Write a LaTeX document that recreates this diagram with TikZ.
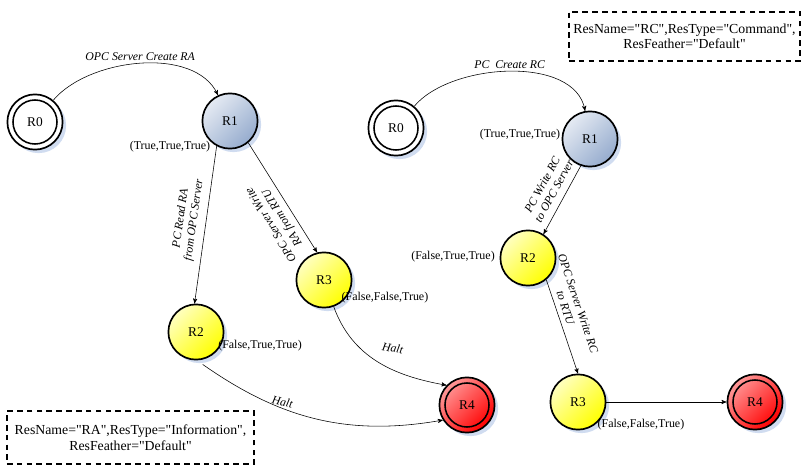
\documentclass[tikz,border=0pt]{standalone}
\usepackage{fontspec}
\setmainfont{Liberation Serif}[Ligatures=TeXOff]
\usepackage[dvipsnames]{xcolor}
\definecolor{colorActive}{RGB}{150,172,206}
\colorlet{colorWait}{yellow}
\colorlet{colorHalt}{red}
\definecolor{colorShadow}{RGB}{208,220,240}
\usepackage{tikz}
\usetikzlibrary{arrows, automata, positioning, shadows}
\tikzset{
  every state/.style={draw, line width=1.2pt, minimum size=1.38cm, inner sep=0pt,
    font=\fontsize{9.5}{11}\selectfont,
    drop shadow={shadow xshift=2.5pt, shadow yshift=-2.5pt, fill=colorShadow, opacity=1}},
  accepting/.style={path picture={\draw[line width=1.1pt] (path picture bounding box.center) circle[radius=0.55cm];}},
  idle/.style={fill=white},
  active/.style={top color=colorActive!25!white, bottom color=colorActive, shading angle=45},
  waiting/.style={top color=colorWait!25!white, bottom color=colorWait, shading angle=45},
  halted/.style={top color=colorHalt!40!white, bottom color=colorHalt, shading angle=45},
  elabel/.style={font=\fontsize{8.4}{9.5}\selectfont\itshape, align=center, inner sep=2pt},
  tuple/.style={font=\fontsize{8.5}{10}\selectfont, inner sep=1pt},
  resbox/.style={draw, line width=0.8pt, dash pattern=on 4pt off 3pt, align=center,
    font=\fontsize{9.8}{11}\selectfont, inner sep=0pt}
}
\begin{document}
\begin{tikzpicture}[>=stealth', thin, x=0.025cm, y=0.025cm]
\useasboundingbox (0,0) rectangle (803,-466);
% RA resource
\node[state, idle, accepting] (ra0) at (35,-122) {R0};
\node[state, active] (ra1) at (230,-121) {R1};
\node[state, waiting] (ra2) at (196,-332) {R2};
\node[state, waiting] (ra3) at (324,-280) {R3};
\node[state, halted, accepting] (ra4) at (467,-405) {R4};
\node[tuple] (ta1) at (170,-147) {(True,True,True)};
\node[tuple] (ta2) at (260,-346) {(False,True,True)};
\node[tuple] (ta3) at (385,-298) {(False,False,True)};
\node[resbox, minimum width=6.175cm, minimum height=1.325cm] (boxa) at (130.5,-437.5) {ResName="RA",ResType="Information",\\ResFeather="Default"};
\draw (ra0) edge [->, out=50, in=115, looseness=0.85] node [elabel, above]{OPC Server Create RA} (ra1);
\draw (ra1.-118) edge [->] node [elabel, sloped, above, pos=0.48, inner sep=4.5pt]{PC Read RA\\from OPC Server} (ra2.93);
\draw (ra1.-50) edge [->] node [elabel, rotate=122, above, pos=0.63, inner sep=3.5pt]{OPC Server Write\\RA from RTU} (ra3.104);
\draw (ra3) edge [->, out=-70, in=170] node [elabel, pos=0.45, anchor=south west, inner sep=6pt, rotate=-10]{Halt} (ra4.136);
\draw (ra2.-88) edge [->, shorten <=5pt, out=-35, in=190] node [elabel, pos=0.36, above, inner sep=1pt, rotate=-12]{Halt} (ra4.212);
% RC resource
\node[state, idle, accepting] (rc0) at (396,-128) {R0};
\node[state, active] (rc1) at (590,-139) {R1};
\node[state, waiting] (rc2) at (528,-258) {R2};
\node[state, waiting] (rc3) at (578,-402) {R3};
\node[state, halted, accepting] (rc4) at (755,-402) {R4};
\node[tuple] (tc1) at (520,-135) {(True,True,True)};
\node[tuple] (tc2) at (453,-257) {(False,True,True)};
\node[tuple] (tc3) at (641,-425) {(False,False,True)};
\node[resbox, minimum width=5.775cm, minimum height=1.225cm] (boxc) at (684.5,-36.5) {ResName="RC",ResType="Command",\\ResFeather="Default"};
\draw (rc0) edge [->, out=50, in=100, looseness=0.85] node [elabel, above]{PC\ \ Create RC} (rc1);
\draw (rc1.-109) edge [->] node [elabel, sloped, above, pos=0.45, inner sep=5pt]{PC Write RC\\to OPC Server} (rc2.57);
\draw (rc2.-50) edge [->] node [elabel, sloped, above, pos=0.33, inner sep=3.5pt]{OPC Server Write RC\\to RTU} (rc3.90);
\draw (rc3) edge [->] (rc4);
\end{tikzpicture}
\end{document}
